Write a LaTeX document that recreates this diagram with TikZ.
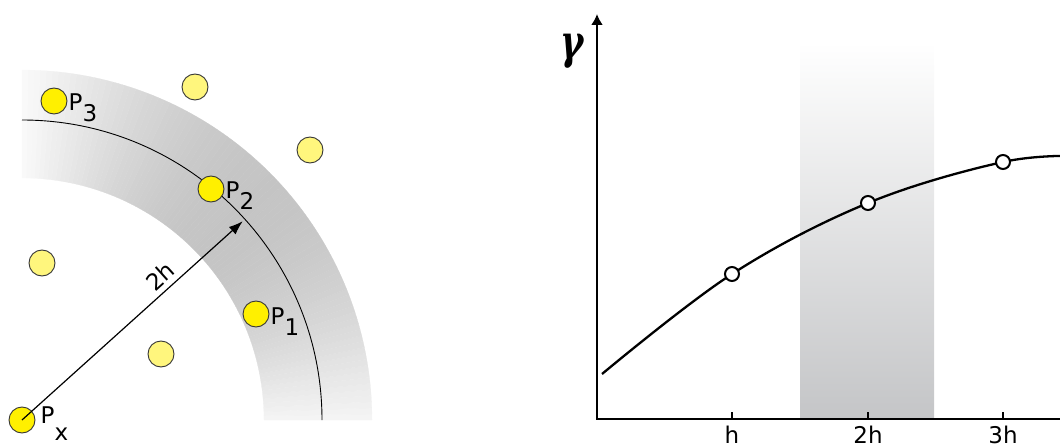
\documentclass[tikz,border=0pt]{standalone}
\usepackage{fontspec}
\setmainfont{DejaVu Sans}
\newfontfamily\greekfont{DejaVu Serif}
\usetikzlibrary{arrows.meta,positioning}
\definecolor{dotyellow}{RGB}{255,240,0}
\definecolor{paleyellow}{RGB}{255,246,125}
\definecolor{bandgray}{RGB}{196,197,199}
\definecolor{rimgray}{RGB}{55,55,55}
\tikzset{
  pt/.style={circle, draw=rimgray, line width=0.9pt, fill=dotyellow, minimum size=26pt, inner sep=0pt},
  farpt/.style={pt, fill=paleyellow},
  ptlabel/.style={anchor=base west, inner sep=0pt, xshift=1pt, yshift=-10pt},
  ring/.style={circle, draw, line width=2pt, fill=white, minimum size=14pt, inner sep=0pt},
  ticklabel/.style={anchor=north, inner sep=0pt}
}
\newcommand{\ptname}[2][11pt]{P\raisebox{-#1}{#2}}

\begin{document}
\begin{tikzpicture}[x=1pt, y=1pt, font=\fontsize{23}{26}\selectfont]
  \useasboundingbox (0,0) rectangle (1060,445);
  \coordinate (o) at (22,25);
  \foreach \a in {0,...,89}{
    \pgfmathsetmacro\k{3+20*sin(2*\a+4)}
    \fill[black!\k, draw=black!\k, line width=0.2pt] ([shift={(\a:242)}]o) arc[start angle=\a, end angle=\a+1, radius=242]
      -- ([shift={(\a+1:350)}]o) arc[start angle=\a+1, end angle=\a, radius=350] -- cycle;
  }
  \draw[line width=0.9pt] ([shift={(0:300)}]o) arc[start angle=0, end angle=90, radius=300];

  \node[pt] (px) at (o) {};
  \node[pt] (p1) at (256,131) {};
  \node[pt] (p2) at (211,256) {};
  \node[pt] (p3) at (54,344) {};
  \node[farpt] (q1) at (195,358) {};
  \node[farpt] (q2) at (310,295) {};
  \node[farpt] (q3) at (42,182) {};
  \node[farpt] (q4) at (161,91) {};
  \node[ptlabel] (l1) at (p1.east) {\ptname{1}};
  \node[ptlabel] (l2) at (p2.east) {\ptname{2}};
  \node[ptlabel] (l3) at (p3.east) {\ptname{3}};
  \node[ptlabel, xshift=4pt, yshift=7pt] (lx) at (px.east) {\ptname[17pt]{x}};

  \coordinate (tip) at ([shift={(42:297)}]o);
  \draw[line width=1.2pt, -{Latex[length=14pt,width=10pt]}] (px.center) -- (tip)
    node[pos=0.67, sloped, above=2pt] (rad) {2h};

  \shade[top color=white, bottom color=bandgray] (800,26) rectangle (934,403);
  \draw[line width=2.6pt, {Latex[length=11pt,width=12pt]}-] (597,431) -- (597,26) -- (1080,26);
  \foreach \x/\t in {732/h, 868/2h, 1003/3h}{
    \draw[line width=1.2pt] (\x,26) -- ++(0,7);
    \node[ticklabel] (t\x) at (\x,19) {\t};
  }
  \node (gamma) at (572,394) {\scalebox{0.75}[1]{\fontsize{47}{50}\selectfont\greekfont\bfseries\itshape γ}};

  \draw[line width=2.3pt] plot[smooth, tension=0.6] coordinates {(602,71) (732,171) (868,242) (1003,283) (1080,289)};
  \node[ring] (g1) at (732,171) {};
  \node[ring] (g2) at (868,242) {};
  \node[ring] (g3) at (1003,283) {};
\end{tikzpicture}
\end{document}
